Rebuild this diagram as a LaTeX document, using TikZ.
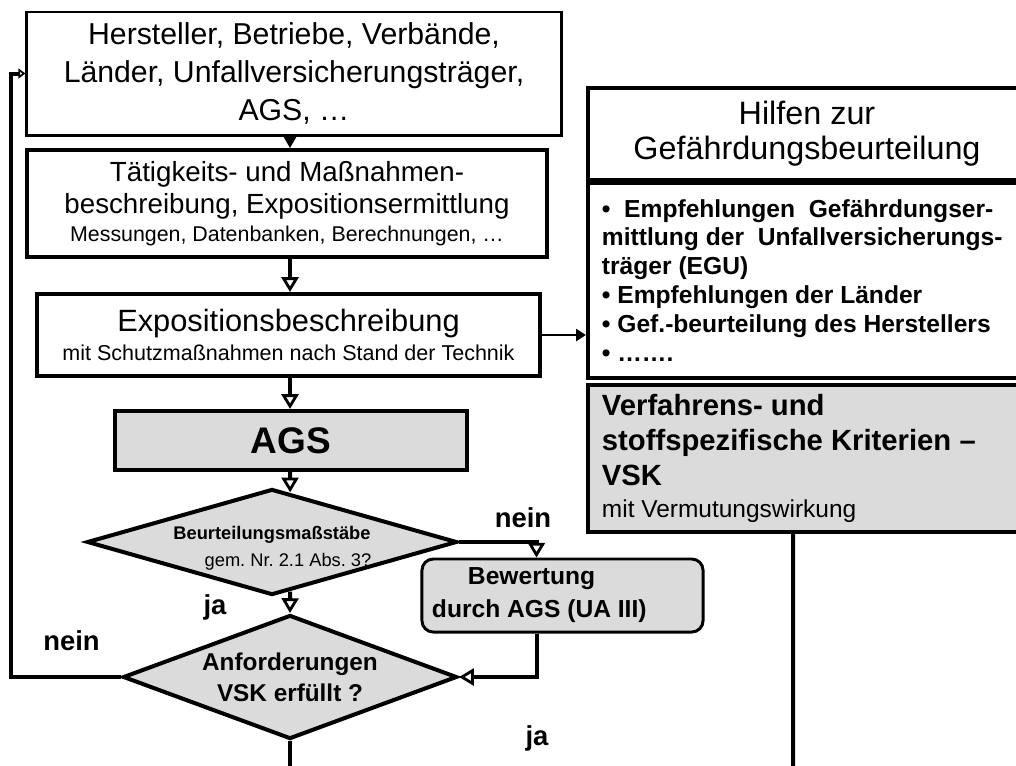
\documentclass[tikz,border=0pt]{standalone}
\usepackage{fontspec}
\setmainfont{Liberation Sans}
\usetikzlibrary{arrows.meta,shapes.geometric,calc}
\definecolor{kastengrau}{gray}{0.86}
\frenchspacing
\tikzset{
  kasten/.style={draw, rectangle, inner sep=0pt, align=flush center},
  raute/.style={draw, diamond, inner sep=0pt, align=flush center, fill=kastengrau, line width=2.85pt},
  linie/.style={line width=2.85pt},
  pfeil/.style={line width=2.85pt, -{Triangle[open, fill=white, length=10.5pt, width=12pt, line width=2pt]}},
  pfeilklein/.style={line width=2.85pt, -{Triangle[open, fill=white, length=5pt, width=7pt, line width=1.2pt]}},
  marke/.style={font=\fontsize{19.5}{22}\selectfont\bfseries},
}

\begin{document}
\begin{tikzpicture}[x=0.025cm, y=-0.025cm]
  \useasboundingbox (0,0) rectangle (1016,765);
  \clip (0,0) rectangle (1016,765);

% linke Kette
  \node[kasten, line width=2.1pt, minimum width=13.35cm, minimum height=3.075cm,
        font=\fontsize{21.5}{26.7}\selectfont] (hersteller) at (294,73.5)
        {Hersteller, Betriebe, Verbände,\\Länder, Unfallversicherungsträger,\\AGS, …};
  \node[kasten, line width=2.85pt, minimum width=13cm, minimum height=2.675cm,
        font=\fontsize{19.7}{22.8}\selectfont] (taetig) at (287,203.5)
        {Tätigkeits- und Maßnahmen-\\beschreibung, Expositionsermittlung\\[-2.9pt]{\fontsize{15.2}{18}\selectfont Messungen, Datenbanken, Berechnungen, …}};
  \node[kasten, line width=2.85pt, minimum width=12.575cm, minimum height=2.05cm,
        font=\fontsize{21.9}{20.6}\selectfont] (expo) at (288.5,335)
        {Expositionsbeschreibung\\{\fontsize{15.3}{18}\selectfont mit Schutzmaßnahmen nach Stand der Technik}};
  \node[kasten, line width=2.85pt, fill=kastengrau, minimum width=8.8cm, minimum height=1.475cm,
        font=\fontsize{26.3}{30}\selectfont\bfseries] (ags) at (291,440.5) {AGS};
  \node[raute, aspect=3.49, minimum width=9.25cm, minimum height=2.65cm,
        font=\fontsize{13}{19.2}\selectfont] (beurt) at (272,542)
        {\raisebox{-0.25cm}[0pt][0pt]{\begin{tabular}{@{}c@{}}\bfseries Beurteilungsmaßstäbe\\\hspace*{0.8cm}gem. Nr. 2.1 Abs. 3?\end{tabular}}};
  \node[raute, aspect=2.7, minimum width=8.35cm, minimum height=3.1cm,
        font=\fontsize{17.3}{22}\selectfont\bfseries] (anford) at (290,677)
        {Anforderungen\\VSK erfüllt ?};
  \node[kasten, line width=2.1pt, fill=kastengrau, rounded corners=8pt, minimum width=7.025cm,
        minimum height=1.825cm, text width=6.525cm, align=flush left,
        font=\fontsize{17.5}{23.5}\selectfont\bfseries] (bewert) at (562.5,595.5)
        {\hspace*{0.9cm}Bewertung\\durch AGS (UA III)};

% rechte Spalte
  \node[kasten, line width=2.85pt, minimum width=10.95cm, minimum height=2.3cm,
        font=\fontsize{23}{24.9}\selectfont] (hilfen) at (807,134)
        {Hilfen zur\\Gefährdungsbeurteilung};
  \node[kasten, line width=2.85pt, minimum width=10.95cm, minimum height=4.875cm,
        text width=10.25cm, align=flush left, font=\fontsize{17.5}{20.6}\selectfont\bfseries] (liste) at (807,280.5)
        {•\ \ Empfehlungen\ \ Gefährdungser-\\mittlung der\ \ Unfallversicherungs-\\träger (EGU)\\• Empfehlungen der Länder\\• Gef.-beurteilung des Herstellers\\• …….};
  \node[kasten, line width=2.85pt, fill=kastengrau, minimum width=10.95cm, minimum height=3.675cm,
        text width=10.25cm, align=flush left, font=\fontsize{20.8}{24.9}\selectfont\bfseries] (vsk) at (807,458.5)
        {Verfahrens- und\\stoffspezifische Kriterien –\\VSK\\[-2.1pt]{\normalfont\fontsize{17.4}{20}\selectfont mit Vermutungswirkung}};

  \coordinate (unten) at (290,770);
  \coordinate (vskunten) at (793,770);

% Pfeile
  \draw[line width=1pt, -{Triangle[length=8pt, width=9pt]}] (hersteller.south -| anford) -- (taetig.north -| anford);
  \draw[pfeil] (taetig.south -| anford) -- (expo.north -| anford);
  \draw[pfeil] (expo.south -| anford) -- (ags.north -| anford);
  \draw[pfeil] (ags.south -| anford) -- ($(beurt.north)!0.097!(beurt.east)$);
  \draw[pfeil] ($(beurt.south)!0.097!(beurt.east)$) -- (anford.north);
  \draw[line width=2.1pt, -{Triangle[length=7pt, width=8.5pt]}] (expo.east) -- (expo.east -| liste.west);
  \draw[pfeil] (beurt.east) -| ([xshift=-0.65cm]bewert.north);
  \draw[pfeil] ([xshift=-0.65cm]bewert.south) |- (anford.east);
  \draw[pfeilklein] (anford.west) -- ++(-110,0) |- (hersteller.west);
  \draw[linie] (anford.south) -- (unten);
  \draw[linie] ([xshift=-0.35cm]vsk.south) -- (vskunten);

  \node[marke] (neinrechts) at (523,518) {nein};
  \node[marke] (jaoben) at (215,607) {ja};
  \node[marke] (neinlinks) at (71.5,641) {nein};
  \node[marke] (jaunten) at (537,738) {ja};
\end{tikzpicture}
\end{document}
